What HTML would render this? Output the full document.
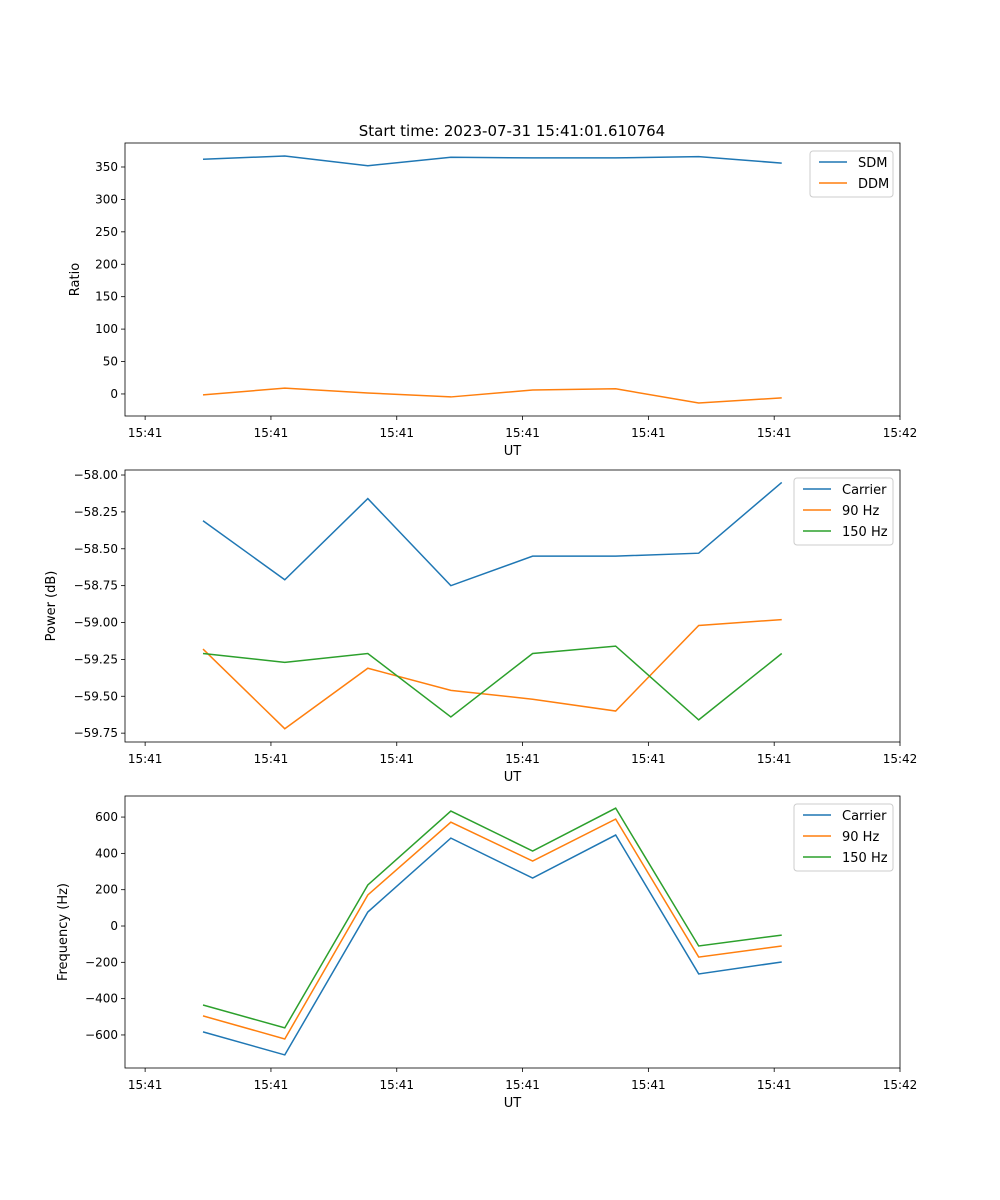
<!DOCTYPE html>
<html><head><meta charset="utf-8"><style>
body{margin:0;background:#fff;}
svg{display:block;font-family:"DejaVu Sans","Liberation Sans",sans-serif;}
</style></head><body>
<svg id="fig" width="1000" height="1200" xmlns="http://www.w3.org/2000/svg">
<text x="512" y="136" font-size="15" text-anchor="middle">Start time: 2023-07-31 15:41:01.610764</text>
</svg>
<script>
const xIdx = [0.46, 1.11, 1.77, 2.43, 3.08, 3.74, 4.40, 5.06];
const xTicks = [0, 1, 2, 3, 4, 5, 6];
const xTickLabels = ["15:41","15:41","15:41","15:41","15:41","15:41","15:42"];
const sdm = [362, 367, 352, 365, 364, 364, 366, 356];
const ddm = [-1.5, 9, 1.5, -4.6, 6, 8, -14, -6];
const pCarrier = [-58.31, -58.71, -58.16, -58.75, -58.55, -58.55, -58.53, -58.05];
const p90 = [-59.18, -59.72, -59.31, -59.46, -59.52, -59.60, -59.02, -58.98];
const p150 = [-59.21, -59.27, -59.21, -59.64, -59.21, -59.16, -59.66, -59.21];
const fCarrier = [-583, -710, 77, 484, 264, 501, -264, -198];
const f90 = [-495, -622, 171, 572, 358, 589, -171, -110];
const f150 = [-435, -561, 226, 633, 413, 649, -110, -50];
const ticks1 = [0, 50, 100, 150, 200, 250, 300, 350];
const ticks2 = [-59.75, -59.5, -59.25, -59.0, -58.75, -58.5, -58.25, -58.0];
const ticks3 = [-600, -400, -200, 0, 200, 400, 600];

const NS = "http://www.w3.org/2000/svg";
const svg = document.getElementById('fig');
const L = 125, R = 900, X0 = -0.16, X1 = 6.0;
const sx = v => L + (v - X0) / (X1 - X0) * (R - L);
function mk(tag, attrs, parent){const e=document.createElementNS(NS,tag);for(const k in attrs)e.setAttribute(k,attrs[k]);(parent||svg).appendChild(e);return e;}
const C = ['#1f77b4','#ff7f0e','#2ca02c'];

function panel(name, top, bot, y0, y1, yt, fmt, ylabel, series, names, legW, legX){
  const g = mk('g', {});
  
  
  const sy = v => bot - (v - y0) / (y1 - y0) * (bot - top);
  xTicks.forEach((t, i) => {
    const x = sx(t);
    mk('line', {x1:x, x2:x, y1:bot, y2:bot+4, stroke:'#000', 'stroke-width':0.8}, g);
    const tx = mk('text', {x:x, y:bot+21, 'font-size':12, 'text-anchor':'middle'}, g);
    tx.textContent = xTickLabels[i];
    
    
  });
  yt.forEach(t => {
    const y = sy(t);
    mk('line', {x1:L-4, x2:L, y1:y, y2:y, stroke:'#000', 'stroke-width':0.8}, g);
    const tx = mk('text', {x:L-7, y:y+4, 'font-size':12, 'text-anchor':'end'}, g);
    tx.textContent = fmt(t);
    
    
  });
  const xl = mk('text', {x:(L+R)/2, y:bot+39, 'font-size':13, 'text-anchor':'middle'}, g);
  xl.textContent = 'UT';
  
  
  const yx = name==='ratio-panel'?79:(name==='power-panel'?55:67);
  const yl = mk('text', {x:yx, y:(top+bot)/2, 'font-size':13, 'text-anchor':'middle', transform:`rotate(-90 ${yx} ${(top+bot)/2})`}, g);
  yl.textContent = ylabel;
  
  
  series.forEach((s, i) => {
    const p = mk('polyline', {points: s.map((v, j) => sx(xIdx[j]) + ',' + sy(v)).join(' '), fill:'none', stroke:C[i], 'stroke-width':1.5}, g);
    
    
  });
  mk('rect', {x:L, y:top, width:R-L, height:bot-top, fill:'none', stroke:'#000', 'stroke-width':0.8}, g);
  const lg = mk('g', {}, g);
  
  
  const lh = 4 + names.length * 21;
  mk('rect', {x:legX, y:top+8, width:legW, height:lh, rx:3, fill:'#fff', stroke:'#ccc', 'stroke-width':1}, lg);
  names.forEach((n, i) => {
    const y = top + 19 + i * 21;
    mk('line', {x1:legX+9, x2:legX+37, y1:y, y2:y, stroke:C[i], 'stroke-width':1.5}, lg);
    const tx = mk('text', {x:legX+48, y:y+5, 'font-size':13}, lg);
    tx.textContent = n;
    
    
  });
}
panel('ratio-panel', 143, 416, -34, 387, ticks1, v => String(v), 'Ratio', [sdm, ddm], ['SDM','DDM'], 83, 810);
panel('power-panel', 470, 742, -59.81, -57.966, ticks2, v => v.toFixed(2).replace('-', '\u2212'), 'Power (dB)', [pCarrier, p90, p150], ['Carrier','90 Hz','150 Hz'], 99, 794);
panel('frequency-panel', 796, 1068, -782, 716, ticks3, v => String(v).replace('-', '\u2212'), 'Frequency (Hz)', [fCarrier, f90, f150], ['Carrier','90 Hz','150 Hz'], 99, 794);
</script>
</body></html>
